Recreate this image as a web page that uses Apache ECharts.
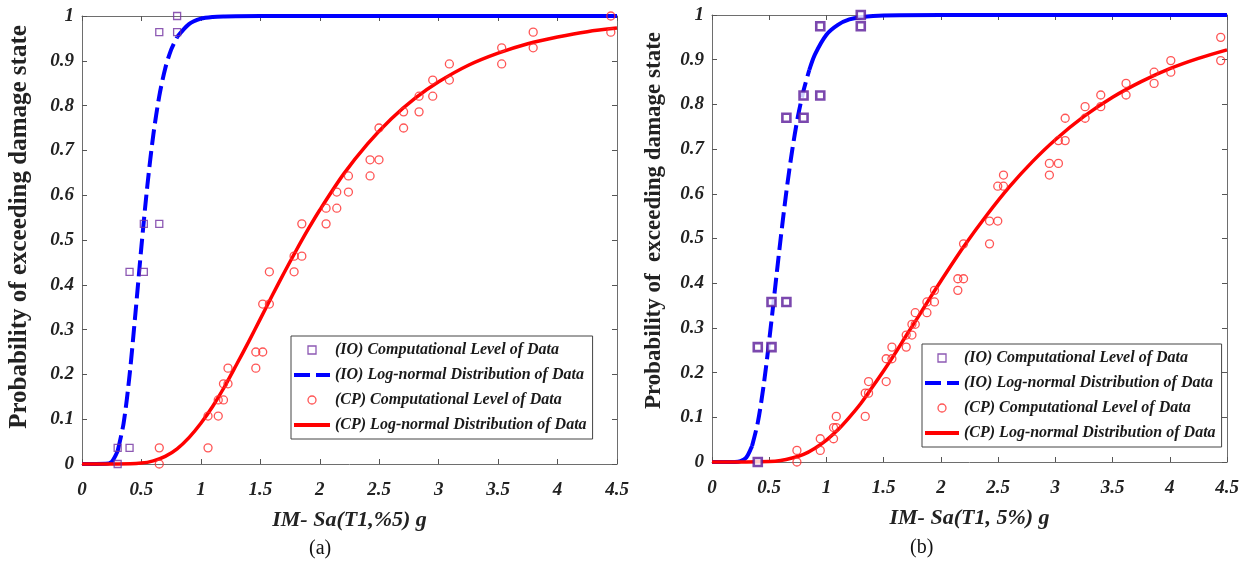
<!DOCTYPE html>
<html>
<head>
<meta charset="utf-8">
<script src="https://cdn.jsdelivr.net/npm/echarts@6/dist/echarts.min.js"></script>
<style>
  html, body { margin: 0; padding: 0; background: #fff; }
  #chart { width: 1247px; height: 563px; }
</style>
</head>
<body>
<div id="chart"></div>
<script>
// ---------- tick labels ----------
const xTickLabels = ['0', '0.5', '1', '1.5', '2', '2.5', '3', '3.5', '4', '4.5'];
const yTickLabels = ['0', '0.1', '0.2', '0.3', '0.4', '0.5', '0.6', '0.7', '0.8', '0.9', '1'];

// ---------- legend / axis names ----------
const nameIOData = '(IO) Computational Level of Data';
const nameIOFit = '(IO) Log-normal Distribution of Data';
const nameCPData = '(CP) Computational Level of Data';
const nameCPFit = '(CP) Log-normal Distribution of Data';
const xNameA = 'IM- Sa(T1,%5) g';
const xNameB = 'IM- Sa(T1, 5%) g';
const yNameA = 'Probability of exceeding damage state';
const yNameB = 'Probability of  exceeding damage state';

// ---------- panel (a) data ----------
const ioAx = [0.30, 0.30, 0.40, 0.40, 0.52, 0.52, 0.65, 0.65, 0.80, 0.80];
const ioAy = [0.000, 0.036, 0.036, 0.429, 0.429, 0.536, 0.536, 0.964, 0.964, 1.000];
const cpAx = [0.65, 0.65, 1.06, 1.06, 1.146, 1.146, 1.19, 1.19, 1.228, 1.228, 1.462, 1.462, 1.52, 1.52, 1.576, 1.576,
  1.784, 1.784, 1.849, 1.849, 2.053, 2.053, 2.143, 2.143, 2.241, 2.241, 2.423, 2.423, 2.498, 2.498, 2.705, 2.705,
  2.835, 2.835, 2.95, 2.95, 3.09, 3.09, 3.53, 3.53, 3.795, 3.795, 4.448, 4.448];
const cpAy = [0, 0.036, 0.036, 0.107, 0.107, 0.143, 0.143, 0.179, 0.179, 0.214, 0.214, 0.25, 0.25, 0.357, 0.357, 0.429,
  0.429, 0.464, 0.464, 0.536, 0.536, 0.571, 0.571, 0.607, 0.607, 0.643, 0.643, 0.679, 0.679, 0.75, 0.75, 0.786,
  0.786, 0.821, 0.821, 0.857, 0.857, 0.893, 0.893, 0.929, 0.929, 0.964, 0.964, 1.0];
const ioAfitX = [0, 0.2, 0.25, 0.3, 0.35, 0.4, 0.45, 0.5, 0.55, 0.6, 0.65, 0.7, 0.75, 0.8, 0.9, 1.0, 1.1, 1.2, 1.5, 2.0, 3.0, 4.5];
const ioAfitY = [0, 0.0004, 0.005, 0.029, 0.091, 0.198, 0.338, 0.486, 0.622, 0.735, 0.821, 0.883, 0.925, 0.953, 0.982, 0.994, 0.998, 0.999, 1, 1, 1, 1];
const cpAfitX = [0, 0.3, 0.5, 0.6, 0.7, 0.8, 0.9, 1.0, 1.1, 1.2, 1.3, 1.4, 1.5, 1.6, 1.7, 1.8, 1.9, 2.0, 2.2, 2.4, 2.6, 2.8, 3.0, 3.25, 3.5, 3.75, 4.0, 4.25, 4.5];
const cpAfitY = [0, 0, 0.002, 0.007, 0.017, 0.034, 0.059, 0.091, 0.129, 0.173, 0.222, 0.272, 0.324, 0.376, 0.427, 0.476, 0.523, 0.567, 0.647, 0.714, 0.770, 0.816, 0.853, 0.890, 0.917, 0.938, 0.953, 0.965, 0.973];

// ---------- panel (b) data ----------
const ioBx = [0.40, 0.40, 0.52, 0.52, 0.65, 0.65, 0.80, 0.80, 0.946, 0.946, 1.30, 1.30];
const ioBy = [0.000, 0.257, 0.257, 0.358, 0.358, 0.770, 0.770, 0.820, 0.820, 0.975, 0.975, 1.000];
const cpBx = [0.742, 0.742, 0.946, 0.946, 1.062, 1.062, 1.086, 1.086, 1.339, 1.339, 1.368, 1.368, 1.522, 1.522, 1.572, 1.572,
  1.697, 1.697, 1.747, 1.747, 1.776, 1.776, 1.878, 1.878, 1.944, 1.944, 2.148, 2.148, 2.198, 2.198, 2.425, 2.425,
  2.497, 2.497, 2.547, 2.547, 2.948, 2.948, 3.027, 3.027, 3.086, 3.086, 3.26, 3.26, 3.397, 3.397, 3.618, 3.618,
  3.863, 3.863, 4.009, 4.009, 4.445, 4.445];
const cpBy = [0, 0.026, 0.026, 0.052, 0.052, 0.077, 0.077, 0.102, 0.102, 0.154, 0.154, 0.18, 0.18, 0.231, 0.231, 0.257,
  0.257, 0.284, 0.284, 0.308, 0.308, 0.334, 0.334, 0.358, 0.358, 0.384, 0.384, 0.41, 0.41, 0.488, 0.488, 0.539,
  0.539, 0.617, 0.617, 0.642, 0.642, 0.668, 0.668, 0.719, 0.719, 0.769, 0.769, 0.795, 0.795, 0.821, 0.821, 0.847,
  0.847, 0.872, 0.872, 0.898, 0.898, 0.95];
const ioBfitX = [0, 0.2, 0.25, 0.3, 0.35, 0.4, 0.45, 0.5, 0.55, 0.6, 0.65, 0.7, 0.75, 0.8, 0.85, 0.9, 1.0, 1.1, 1.2, 1.3, 1.5, 2.0, 3.0, 4.5];
const ioBfitY = [0, 0.0001, 0.002, 0.010, 0.036, 0.088, 0.169, 0.272, 0.386, 0.5, 0.605, 0.696, 0.772, 0.831, 0.877, 0.912, 0.956, 0.978, 0.990, 0.995, 0.999, 1, 1, 1];
const cpBfitX = [0, 0.3, 0.5, 0.6, 0.7, 0.8, 0.9, 1.0, 1.1, 1.2, 1.3, 1.4, 1.5, 1.6, 1.7, 1.8, 1.9, 2.0, 2.2, 2.4, 2.6, 2.8, 3.0, 3.25, 3.5, 3.75, 4.0, 4.25, 4.5];
const cpBfitY = [0, 0, 0.001, 0.0035, 0.009, 0.017, 0.031, 0.049, 0.072, 0.100, 0.131, 0.167, 0.204, 0.243, 0.284, 0.324, 0.365, 0.405, 0.482, 0.552, 0.616, 0.672, 0.721, 0.773, 0.816, 0.851, 0.880, 0.903, 0.922];

// ---------- build ----------
const serif = '"Liberation Serif", "Times New Roman", serif';
const zip = (xs, ys) => xs.map((x, i) => [x, ys[i]]);
const BLUE = '#0000ff', RED = '#ff0000', PURPLE = '#7030a0';

function axesFor(gi) {
  const base = {
    type: 'value', gridIndex: gi, min: 0,
    axisLine: { show: true, onZero: false, lineStyle: { color: '#6e6e6e', width: 1 } },
    axisTick: { show: true, inside: true, length: 5, lineStyle: { color: '#555' } },
    splitLine: { show: false }
  };
  const xs = [
    Object.assign({}, base, {
      max: 4.5, interval: 0.5, position: 'bottom',
      name: gi === 0 ? xNameA : xNameB, nameLocation: 'middle', nameGap: 45,
      nameTextStyle: { fontFamily: serif, fontSize: 22, fontWeight: 'bold', fontStyle: 'italic', color: '#222' },
      axisLabel: { margin: 17, fontFamily: serif, fontSize: 19, fontWeight: 'bold', fontStyle: 'italic', color: '#222',
        formatter: v => xTickLabels[Math.round(v * 2)] }
    }),
    Object.assign({}, base, { max: 4.5, interval: 0.5, position: 'top', axisLabel: { show: false } })
  ];
  const ys = [
    Object.assign({}, base, {
      max: 1, interval: 0.1, position: 'left',
      name: gi === 0 ? yNameA : yNameB, nameLocation: 'middle', nameGap: gi === 0 ? 50 : 46,
      nameTextStyle: { fontFamily: serif, fontSize: gi === 0 ? 25 : 23, fontWeight: 'bold', color: '#222',
        padding: gi === 0 ? [0, 0, 0, 26] : [0, 0, 0, 36] },
      axisLabel: { margin: 8, fontFamily: serif, fontSize: 19, fontWeight: 'bold', fontStyle: 'italic', color: '#222',
        formatter: v => yTickLabels[Math.round(v * 10)] }
    }),
    Object.assign({}, base, { max: 1, interval: 0.1, position: 'right', axisLabel: { show: false } })
  ];
  return { xs, ys };
}

const aA = axesFor(0), aB = axesFor(1);

function panelSeries(xi, yi, ioX, ioY, cpX, cpY, fitIOx, fitIOy, fitCPx, fitCPy, lowEnd, highStart, squareStyle, squareSize) {
  const io = zip(fitIOx, fitIOy);
  const common = { type: 'line', xAxisIndex: xi, yAxisIndex: yi, symbol: 'none', smooth: 0.3, clip: false, silent: true, animation: false };
  return [
    Object.assign({}, common, { name: 'io-tail-low-' + xi, data: io.slice(0, lowEnd + 1), lineStyle: { color: BLUE, width: 4 }, z: 2 }),
    Object.assign({}, common, { name: nameIOFit, data: io.slice(lowEnd, highStart + 1), lineStyle: { color: BLUE, width: 4, type: [16, 6] }, itemStyle: { color: BLUE }, z: 2 }),
    Object.assign({}, common, { name: 'io-tail-high-' + xi, data: io.slice(highStart), lineStyle: { color: BLUE, width: 4 }, z: 2 }),
    Object.assign({}, common, { name: nameCPFit, data: zip(fitCPx, fitCPy), lineStyle: { color: RED, width: 3.5 }, itemStyle: { color: RED }, z: 3 }),
    { type: 'scatter', name: nameIOData, xAxisIndex: xi, yAxisIndex: yi, data: zip(ioX, ioY), symbol: 'rect', symbolSize: squareSize,
      itemStyle: squareStyle, z: 4, animation: false, silent: true, clip: false },
    { type: 'scatter', name: nameCPData, xAxisIndex: xi, yAxisIndex: yi, data: zip(cpX, cpY), symbol: 'circle', symbolSize: 8,
      itemStyle: { color: 'rgba(255,255,255,0)', borderColor: '#ff2a2a', borderWidth: 1.3 }, z: 4, animation: false, silent: true, clip: false }
  ];
}

const legendText = { fontFamily: serif, fontSize: 16, fontWeight: 'bold', fontStyle: 'italic', color: '#1a1a1a' };
const hiddenDot = { color: 'rgba(0,0,0,0)', borderColor: 'rgba(0,0,0,0)', borderWidth: 0 };
const legendData = [
  { name: nameIOData, icon: 'path://M0,0L10,0L10,10L0,10Z',
    itemStyle: { color: 'rgba(255,255,255,0)', borderColor: PURPLE, borderWidth: 1.3 } },
  { name: nameIOFit, itemStyle: hiddenDot },
  { name: nameCPData },
  { name: nameCPFit, itemStyle: hiddenDot }
];
function legendAt(left, top, itemWidth, textGap) {
  return {
    left, top, orient: 'vertical', data: legendData, selectedMode: false,
    itemWidth, itemHeight: 8, itemGap: 9, itemTextGap: textGap,
    padding: [6, 6, 6, 1], borderColor: '#444', borderWidth: 1, backgroundColor: '#fff',
    lineStyle: { width: 4 }, itemStyle: { borderWidth: 1.3 },
    textStyle: legendText
  };
}

const option = {
  animation: false,
  backgroundColor: '#fff',
  grid: [
    { left: 82, top: 16, width: 535, height: 448, containLabel: false },
    { left: 712, top: 15, width: 515, height: 447, containLabel: false }
  ],
  xAxis: [aA.xs[0], aA.xs[1], Object.assign({}, aB.xs[0], { gridIndex: 1 }), Object.assign({}, aB.xs[1], { gridIndex: 1 })],
  yAxis: [aA.ys[0], aA.ys[1], Object.assign({}, aB.ys[0], { gridIndex: 1 }), Object.assign({}, aB.ys[1], { gridIndex: 1 })],
  legend: [legendAt(291, 336, 36, 8), legendAt(922, 344, 34, 8)],
  graphic: [
    { type: 'text', left: 309, top: 539, style: { text: '(a)', font: '20px ' + serif, fill: '#111' } },
    { type: 'text', left: 910, top: 538, style: { text: '(b)', font: '20px ' + serif, fill: '#111' } }
  ],
  series: [].concat(
    panelSeries(0, 0, ioAx, ioAy, cpAx, cpAy, ioAfitX, ioAfitY, cpAfitX, cpAfitY, 3, 13,
      { color: 'rgba(255,255,255,0)', borderColor: PURPLE, borderWidth: 1.3 }, 7),
    panelSeries(2, 2, ioBx, ioBy, cpBx, cpBy, ioBfitX, ioBfitY, cpBfitX, cpBfitY, 4, 14,
      { color: '#ffffff', borderColor: '#5a1a9a', borderWidth: 2.6 }, 8)
  )
};

const chart = echarts.init(document.getElementById('chart'), null, { renderer: 'canvas' });
chart.setOption(option);
</script>
</body>
</html>
